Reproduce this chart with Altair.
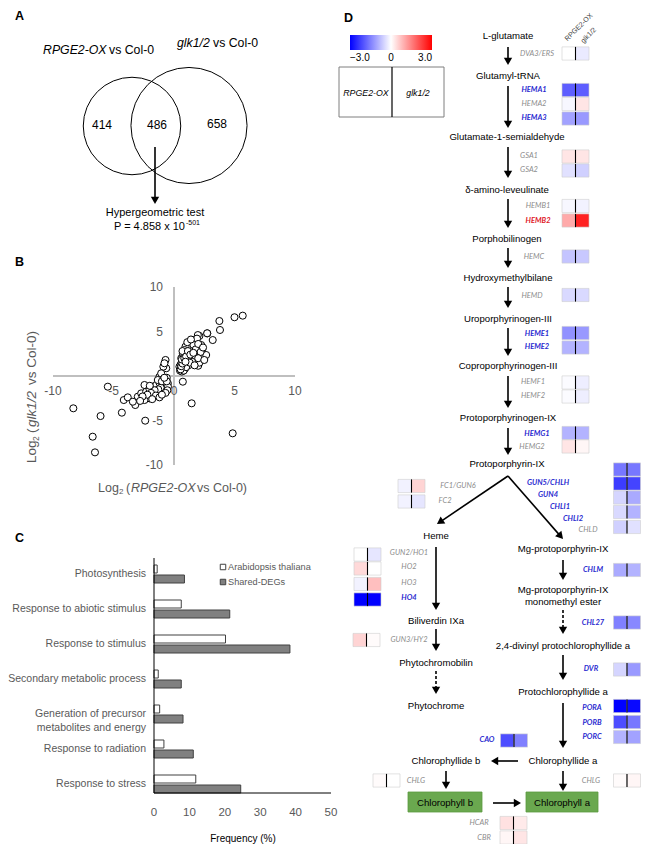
import math
import altair as alt
import pandas as pd

# ---------------- data ----------------
venn_counts = [414, 486, 658]
hyper_text = "P = 4.858 x 10"
hyper_exp = "-501"

scatter_x = [5.68, 5.0, 3.75, 3.8, 3.2, 2.75, 2.1, 1.55, 1.28, 2.25, 2.33, 2.66, 2.0,
             0.73, -0.7, -0.64, -0.88, 0.45, 1.46, 4.85, 1.97, 2.74,
             0.5, 0.6, 0.55, 0.7, 0.6, 0.8, 0.75, 0.9, 1.0, 1.1, 0.9, 1.0, 1.2, 1.3, 1.4, 1.5,
             1.6, 1.7, 1.8, 1.9, 2.0, 2.2, 2.4, 1.2, 1.5, 0.65, 0.8, 1.0, 1.3, 2.1, 1.7, 2.0,
             0.95, 0.87, 0.73, 1.1, 1.4, 0.7, 2.5, 0.55, 0.6, 0.7, 0.65, 0.85, 1.0, 1.15, 1.35,
             1.6, 0.95,
             -5.47, -8.32, -6.07, -4.31, -2.38, -6.72, -6.53, -4.15, -3.82, -3.2, -2.44, -2.99,
             -2.71, -2.3, -2.02, -1.75, -1.47, -1.2, -0.93, -0.64, -0.51, -0.79, -1.06, -1.34,
             -1.67, -2.02, -2.44, -3.4, -0.79, -1.2, -1.06, -1.34, -0.6, -0.7, -0.9, -1.1, -1.3,
             -1.6, -1.9, -2.2, -2.6, -0.5, -1.0, -1.5, -1.8, -2.8, -0.6, -0.8, -1.2, -2.0, -0.55,
             -0.7, -1.0]
scatter_y = [6.78, 6.6, 6.18, 5.17, 4.04, 4.79, 4.5, 4.04, 3.67, 3.48, 3.0, 2.36, 1.15,
             -0.64, 1.8, 0.87, 1.05, 1.04, -3.07, -6.44, 4.6, 4.8,
             0.6, 0.9, 1.3, 1.6, 2.0, 2.3, 1.1, 0.8, 1.4, 1.9, 2.6, 3.0, 2.5, 3.2, 2.0, 2.8,
             3.5, 2.2, 3.0, 4.2, 3.6, 2.7, 3.2, 1.2, 1.6, 0.5, 0.6, 1.0, 1.5, 1.5, 1.2, 2.0,
             3.3, 2.92, 2.55, 3.8, 4.1, 2.8, 1.8, 0.75, 1.1, 1.4, 1.85, 2.0, 2.2, 2.8, 2.4,
             2.6, 1.6,
             -1.2, -3.63, -4.5, -4.12, -5.02, -6.82, -8.58, -2.7, -2.4, -3.26, -1.01, -2.32,
             -1.95, -1.76, -1.5, -1.2, -1.01, -0.75, -0.53, -0.37, -0.82, -1.38, -1.76, -1.95,
             -2.25, -2.51, -2.7, -2.89, 1.43, -0.08, 0.3, -0.45, -0.2, -0.9, -1.1, -1.3, -1.5,
             -1.6, -1.9, -2.1, -2.3, -1.2, -0.6, -2.2, -2.6, -2.8, -0.6, -0.2, -2.4, -1.1, -1.6,
             -1.9, -2.1]
scatter_ticks = [-10, -5, 0, 5, 10]

go_terms = ["Photosynthesis", "Response to abiotic stimulus", "Response to stimulus",
            "Secondary metabolic process", "Generation of precursor\nmetabolites and energy",
            "Response to radiation", "Response to stress"]
go_arabidopsis = [0.9, 7.7, 20.2, 1.2, 1.6, 2.8, 11.8]
go_shared = [8.6, 21.4, 38.4, 7.7, 8.2, 11.1, 24.5]
go_series = ["Arabidopsis thaliana", "Shared-DEGs"]
go_ticks = [0, 10, 20, 30, 40, 50]

genes = ["DVA3/ERS", "HEMA1", "HEMA2", "HEMA3", "GSA1", "GSA2", "HEMB1", "HEMB2", "HEMC",
         "HEMD", "HEME1", "HEME2", "HEMF1", "HEMF2", "HEMG1", "HEMG2", "FC1/GUN6", "FC2",
         "GUN5/CHLH", "GUN4", "CHLI1", "CHLI2", "CHLD", "GUN2/HO1", "HO2", "HO3", "HO4",
         "GUN3/HY2", "CHLM", "CHL27", "DVR", "PORA", "PORB", "PORC", "CAO", "CHLG", "CHLG",
         "HCAR", "CBR"]
rpge_fc = [0.0, -1.9, -0.1, -1.1, 0.3, -0.35, -0.1, 1.0, -0.7, -0.45, -1.3, -0.9, -0.05,
           -0.05, -0.9, 0.3, -0.15, -0.15, -1.6, -2.3, -0.5, -0.45, -0.55, 0.0, 0.45, -0.15,
           -3.0, 0.5, -1.0, -1.5, -0.5, -3.0, -2.1, -0.9, -2.1, 0.05, 0.05, 0.35, 0.1]
glk_fc = [-0.25, -1.9, 0.3, -1.2, 0.3, -0.55, -0.15, 2.6, -0.65, -0.45, -1.2, -0.9, -0.2,
          -0.2, -0.9, 0.1, 0.5, -0.3, -1.6, -2.2, -1.0, -0.9, -0.35, -0.3, 0.0, 0.75, -3.0,
          0.05, -0.9, -1.4, -1.2, -2.9, -1.6, -1.1, -1.5, 0.0, 0.1, 0.25, 0.3]
gene_change = ["ns", "down", "ns", "down", "ns", "ns", "ns", "up", "ns", "ns", "down", "down",
               "ns", "ns", "down", "ns", "ns", "ns", "down", "down", "down", "down", "ns",
               "ns", "ns", "ns", "down", "ns", "down", "down", "down", "down", "down", "down",
               "down", "ns", "ns", "ns", "ns"]

compounds = ["L-glutamate", "Glutamyl-tRNA", "Glutamate-1-semialdehyde", "δ-amino-leveulinate",
             "Porphobilinogen", "Hydroxymethylbilane", "Uroporphyrinogen-III",
             "Coproporphyrinogen-III", "Protoporphyrinogen-IX", "Protoporphyrin-IX", "Heme",
             "Mg-protoporphyrin-IX", "Biliverdin IXa", "Mg-protoporphyrin-IX", "monomethyl ester",
             "2,4-divinyl  protochlorophyllide a", "Phytochromobilin", "Phytochrome",
             "Protochlorophyllide a", "Chlorophyllide b", "Chlorophyllide a"]
end_products = ["Chlorophyll b", "Chlorophyll a"]

# ---------------- layout (pixel positions in the page) ----------------
W, H, OFF = 637, 836, 8
SANS = "Liberation Sans"
GENEF = "Lato"
GRAY = "#595959"

compound_xy = [(508, 36), (508, 76), (507, 137), (507, 190), (507, 239), (508, 278), (508, 319),
               (508, 366), (508, 418), (507, 464), (436, 536), (563, 549), (436, 621), (563, 590),
               (563, 602), (563, 646), (436, 663), (436, 706), (563, 692), (446, 761), (563, 761)]
gene_label_xy = [(537, 54), (534, 90), (534, 104), (534, 118), (529, 156), (529, 170), (538, 206),
                 (538, 221), (534, 257), (532, 296), (537, 334), (537, 347), (533, 382),
                 (533, 396), (537, 434), (532, 447), (458, 486), (445, 501), (548, 483),
                 (548, 495), (560, 507), (573, 519), (588, 530), (409, 553), (409, 567),
                 (409, 583), (409, 598), (409, 640), (593, 570), (593, 623), (591, 669),
                 (592, 708), (592, 723), (592, 737), (487, 740), (416, 781), (591, 781),
                 (479, 823), (484, 838)]
cell_xy = [(562, 53.5), (562, 90), (562, 104), (562, 118.5), (562, 156.5), (562, 170.5),
           (562, 206), (562, 220.5), (562, 256.5), (562, 295), (562, 333), (562, 347.5),
           (562, 382.5), (562, 396.5), (562, 433), (562, 446.5), (398, 486), (398, 501.5),
           (613.5, 469.5), (613.5, 483.5), (613.5, 497.5), (613.5, 512), (613.5, 527),
           (354, 554.5), (354, 568.5), (354, 584), (354, 599.5), (353, 640), (613.5, 570),
           (613.5, 622.5), (613.5, 669.5), (613.5, 706), (613.5, 722), (613.5, 737),
           (500.5, 740.5), (373, 780.5), (613.5, 780.5), (500, 823), (500, 837.5)]
arrows = [(508, 47, 508, 65, 0), (508, 86, 508, 128, 0), (508, 147, 508, 178, 0),
          (508, 199, 508, 228, 0), (508, 248, 508, 268, 0), (508, 287, 508, 308, 0),
          (508, 328, 508, 356, 0), (508, 376, 508, 408, 0), (508, 428, 508, 455, 0),
          (508, 476, 437, 524, 0), (508, 476, 563, 539, 0), (436, 547, 436, 610, 0),
          (436, 629, 436, 651, 0), (436, 671, 436, 694, 1), (563, 560, 563, 580, 0),
          (563, 610, 563, 634, 1), (563, 655, 563, 680, 0), (563, 703, 563, 748, 0),
          (518, 761, 491, 761, 0), (446, 771, 446, 789, 0), (563, 771, 563, 791, 0),
          (493, 803, 521, 803, 0), (155, 147, 155, 204, 0)]

BX = alt.Scale(domain=[-10, 10], range=[45, 287], nice=False, zero=False)
BY = alt.Scale(domain=[-10, 10], range=[457, 279], nice=False, zero=False)
CX = alt.Scale(domain=[0, 50], range=[146, 323], nice=False, zero=False)
CY = alt.Scale(domain=go_terms, range=[548.5, 793.5], paddingInner=0, paddingOuter=0)


def sx():
    return alt.Scale(domain=[OFF, OFF + W], nice=False, zero=False)


def sy():
    return alt.Scale(domain=[OFF, OFF + H], nice=False, zero=False, reverse=True)


def PX(f="x"):
    return alt.X(f"{f}:Q", scale=sx(), axis=None)


def PY(f="y"):
    return alt.Y(f"{f}:Q", scale=sy(), axis=None)


def texts(rows, size=9.6, color="black", style="normal", weight="normal", align="center",
          baseline="middle", angle=0, font=SANS):
    """rows are (text, x, y)"""
    df = pd.DataFrame(rows, columns=["t", "x", "y"])
    return alt.Chart(df).mark_text(font=font, fontSize=size, fill=color, fontStyle=style,
                                   fontWeight=weight, align=align, baseline=baseline,
                                   angle=angle).encode(x=PX(), y=PY(), text="t:N")


def lines(rows, color="black", width=1.6, dash=None):
    df = pd.DataFrame(rows, columns=["x", "y", "x2", "y2"])
    kw = dict(color=color, strokeWidth=width)
    if dash:
        kw["strokeDash"] = dash
    return alt.Chart(df).mark_rule(**kw).encode(x=PX(), y=PY(), x2="x2:Q", y2="y2:Q")


layers = []

# ---------- Panel A ----------
layers.append(texts([("A", 15, 16), ("B", 15, 262), ("C", 15, 538), ("D", 344, 18)],
                    size=12.5, weight="bold", align="left"))
layers.append(texts([("RPGE2-OX", 43, 50), ("glk1/2", 177, 43)], size=12.3, style="italic",
                    align="left"))
layers.append(texts([("vs Col-0", 109, 50), ("vs Col-0", 213, 43)], size=12.3, align="left"))
venn_df = pd.DataFrame({"x": [132, 189], "y": [126, 125.5],
                        "s": [math.pi * 55 ** 2, math.pi * 65.5 ** 2]})
layers.append(alt.Chart(venn_df).mark_point(shape="circle", filled=False, color="black",
                                            strokeWidth=1, opacity=1).encode(
    x=PX(), y=PY(), size=alt.Size("s:Q", scale=None)))
layers.append(texts([(str(venn_counts[0]), 102, 125), (str(venn_counts[1]), 157, 125),
                     (str(venn_counts[2]), 217, 124)], size=12))
layers.append(texts([("Hypergeometric test", 155, 213)], size=11))
layers.append(texts([(hyper_text, 185, 227)], size=11, align="right"))
layers.append(texts([(hyper_exp, 186, 223)], size=7, align="left"))

# ---------- Panel B ----------
axis_b = pd.DataFrame({"x": [-10, 0], "x2": [10, 0], "y": [0, -10], "y2": [0, 10]})
layers.append(alt.Chart(axis_b).mark_rule(color="#bfbfbf", strokeWidth=2).encode(
    x=alt.X("x:Q", scale=BX, axis=None), x2="x2:Q",
    y=alt.Y("y:Q", scale=BY, axis=None), y2="y2:Q"))
sc_df = pd.DataFrame({"x": scatter_x, "y": scatter_y})
layers.append(alt.Chart(sc_df).mark_point(shape="circle", filled=True, fill="white",
                                          stroke="black", strokeWidth=1, size=50,
                                          opacity=1).encode(
    x=alt.X("x:Q", scale=BX, axis=None), y=alt.Y("y:Q", scale=BY, axis=None)))
bxt = pd.DataFrame({"v": scatter_ticks, "t": [str(v) for v in scatter_ticks], "z": 0})
layers.append(alt.Chart(bxt).mark_text(font=SANS, fontSize=12, fill=GRAY, dy=15).encode(
    x=alt.X("v:Q", scale=BX, axis=None), y=alt.Y("z:Q", scale=BY, axis=None), text="t:N"))
byt = bxt[bxt.v != 0]
layers.append(alt.Chart(byt).mark_text(font=SANS, fontSize=12, fill=GRAY, dx=-11,
                                       align="right").encode(
    x=alt.X("z:Q", scale=BX, axis=None), y=alt.Y("v:Q", scale=BY, axis=None), text="t:N"))
layers.append(texts([("Log", 98, 488), ("(", 126, 488), ("vs Col-0)", 197, 488)], size=12.5,
                    color=GRAY, align="left"))
layers.append(texts([("2", 119, 492)], size=8, color=GRAY, align="left"))
layers.append(texts([("RPGE2-OX", 131, 488)], size=12.5, color=GRAY, style="italic",
                    align="left"))
layers.append(texts([("Log", 32, 463), ("(", 32, 433), ("vs Col-0)", 32, 385)], size=13.5,
                    color=GRAY, align="left", angle=270))
layers.append(texts([("2", 36, 441)], size=8.5, color=GRAY, align="left", angle=270))
layers.append(texts([("glk1/2", 32, 427)], size=13.5, color=GRAY, style="italic",
                    align="left", angle=270))

# ---------- Panel C ----------
go_df = pd.DataFrame({
    "term": go_terms * 2,
    "series": [go_series[0]] * len(go_terms) + [go_series[1]] * len(go_terms),
    "v": go_arabidopsis + go_shared,
    "z": 0,
})
layers.append(alt.Chart(go_df).mark_bar(stroke="#404040", strokeWidth=1).encode(
    x=alt.X("v:Q", scale=CX, axis=None), x2="z:Q",
    y=alt.Y("term:N", scale=CY, axis=None),
    yOffset=alt.YOffset("series:N", scale=alt.Scale(domain=go_series, paddingInner=0.2,
                                                    paddingOuter=0.85)),
    color=alt.Color("series:N", scale=alt.Scale(domain=go_series, range=["#ffffff", "#808080"]),
                    legend=None)))
lab_df = pd.DataFrame({"term": go_terms, "x": 146})
layers.append(alt.Chart(lab_df).mark_text(font=SANS, fontSize=10.5, fill=GRAY, align="right",
                                          lineBreak="\n", lineHeight=14).encode(
    x=PX(), y=alt.Y("term:N", scale=CY, axis=None), text="term:N"))
layers.append(lines([(154, 558, 154, 793), (154, 793, 331, 793)], width=1))
ct = pd.DataFrame({"v": go_ticks, "t": [str(v) for v in go_ticks], "y": 813})
layers.append(alt.Chart(ct).mark_text(font=SANS, fontSize=11.5, fill=GRAY).encode(
    x=alt.X("v:Q", scale=CX, axis=None), y=PY(), text="t:N"))
layers.append(texts([("Frequency (%)", 243, 839)], size=10, color="black"))
leg_df = pd.DataFrame({"x": [223, 223], "y": [567, 582], "s": go_series})
layers.append(alt.Chart(leg_df).mark_point(shape="square", filled=True, size=30, stroke="#404040",
                                           strokeWidth=1, opacity=1).encode(
    x=PX(), y=PY(),
    color=alt.Color("s:N", scale=alt.Scale(domain=go_series, range=["#ffffff", "#808080"]),
                    legend=None)))
layers.append(texts([(go_series[0], 228, 567), (go_series[1], 228, 582)], size=9.2, color=GRAY,
                    align="left"))

# ---------- Panel D ----------
# legend box
layers.append(alt.Chart(pd.DataFrame({"x": [339], "x2": [444], "y": [67], "y2": [117]}))
              .mark_rect(fill="white", stroke="#7f7f7f", strokeWidth=1)
              .encode(x=PX(), x2="x2:Q", y=PY(), y2="y2:Q"))
layers.append(lines([(392, 67, 392, 117)], width=1.2))
layers.append(texts([("RPGE2-OX", 366, 93), ("glk1/2", 418, 93)], size=8.8, style="italic"))

# heatmap cells
CW, CH = 13.5, 13.2
cell_rows, div_rows = [], []
for g, a, b, (x0, yc) in zip(genes, rpge_fc, glk_fc, cell_xy):
    for k, v in enumerate((a, b)):
        cell_rows.append({"x": x0 + k * CW, "x2": x0 + (k + 1) * CW,
                          "y": yc - CH / 2, "y2": yc + CH / 2, "v": v, "g": g})
    div_rows.append((x0 + CW, yc - CH / 2, x0 + CW, yc + CH / 2))
cell_df = pd.DataFrame(cell_rows)
layers.append(alt.Chart(cell_df).mark_rect(stroke="#cfcfcf", strokeWidth=0.6).encode(
    x=PX(), x2="x2:Q", y=PY(), y2="y2:Q",
    color=alt.Color("v:Q", scale=alt.Scale(domain=[-3, 0, 3],
                                           range=["#0000ff", "#ffffff", "#ff0000"],
                                           interpolate="rgb"),
                    legend=alt.Legend(orient="none", legendX=342, legendY=27,
                                      direction="horizontal", gradientLength=82,
                                      gradientThickness=15, title=None, values=[-3, 0, 3],
                                      labelExpr="datum.value == 0 ? '0' : format(datum.value, '.1f')",
                                      labelFont=SANS, labelFontSize=10, labelColor="black",
                                      labelAlign="center", labelOffset=3, gradientStrokeWidth=0,
                                      padding=0, labelOverlap=False))))
layers.append(lines(div_rows, width=1.1))

# gene labels
for kind, color, weight in (("ns", "#8c8c8c", "normal"), ("down", "#2a2ad0", "bold"),
                            ("up", "#e0202a", "bold")):
    rows = [(g, x, y) for g, c, (x, y) in zip(genes, gene_change, gene_label_xy) if c == kind]
    layers.append(texts(rows, size=7.5, color=color, style="italic", weight=weight, font=GENEF))

layers.append(texts([("RPGE2-OX", 566, 40), ("glk1/2", 582, 42)], size=7, color="#404040",
                    align="left", angle=315))

# compounds
layers.append(texts([(c, x, y) for c, (x, y) in zip(compounds, compound_xy)], size=9.6))

# end-product boxes
box_df = pd.DataFrame({"x": [408, 526], "x2": [482, 598], "y": [792, 792], "y2": [812, 812]})
layers.append(alt.Chart(box_df).mark_rect(fill="#6aa84f", stroke="#5a9a40", strokeWidth=0.8)
              .encode(x=PX(), x2="x2:Q", y=PY(), y2="y2:Q"))
layers.append(texts([(end_products[0], 445, 803), (end_products[1], 562, 803)], size=9.6))

# arrows
HL = 4.8
solid_rows, dash_rows, head_rows = [], [], []
for x1, y1, x2, y2, dashed in arrows:
    L = math.hypot(x2 - x1, y2 - y1)
    dx, dy = (x2 - x1) / L, (y2 - y1) / L
    cx, cy = x2 - HL * dx, y2 - HL * dy
    (dash_rows if dashed else solid_rows).append((x1, y1, cx, cy))
    head_rows.append((cx, cy, math.degrees(math.atan2(dx, -dy)) % 360))
layers.append(lines(solid_rows, width=1.6))
layers.append(lines(dash_rows, width=1.6, dash=[3, 2]))
head_df = pd.DataFrame(head_rows, columns=["x", "y", "a"])
layers.append(alt.Chart(head_df).mark_point(shape="triangle", filled=True, color="black",
                                            size=70, opacity=1).encode(
    x=PX(), y=PY(), angle=alt.Angle("a:Q", scale=None)))

chart = alt.layer(*layers).resolve_scale(
    x="independent", y="independent", color="independent"
).properties(
    width=W, height=H, padding=0, autosize=alt.AutoSizeParams(type="none"), background="white"
).configure_view(strokeWidth=0)

chart.save("out.html", embed_options={"renderer": "svg", "actions": False})
